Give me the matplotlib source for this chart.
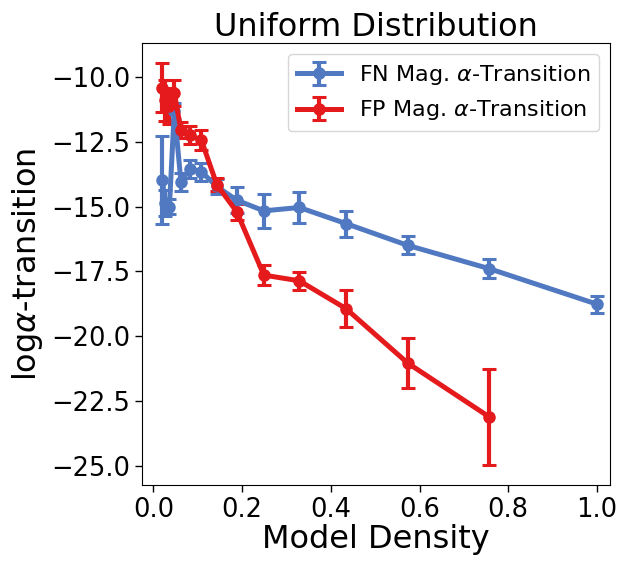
import matplotlib
matplotlib.use("Agg")
import matplotlib.pyplot as plt

density = [1.0, 0.757, 0.573, 0.434, 0.329, 0.249, 0.188, 0.143, 0.108, 0.082, 0.062, 0.047, 0.036, 0.027, 0.020]

fn_mean = [-18.76, -17.39, -16.49, -15.65, -15.03, -15.16, -14.75, -14.22, -13.65, -13.53, -14.04, -11.3, -15.0, -14.85, -13.98]
fn_err = [0.33, 0.36, 0.35, 0.5, 0.61, 0.66, 0.51, 0.3, 0.35, 0.35, 0.35, 0.3, 0.3, 0.5, 1.7]

fp_mean = [None, -23.11, -21.03, -18.93, -17.86, -17.64, -15.2, -14.15, -12.43, -12.24, -12.05, -10.6, -11.1, -10.9, -10.4]
fp_err = [None, 1.85, 0.97, 0.7, 0.35, 0.39, 0.3, 0.25, 0.4, 0.35, 0.3, 0.5, 0.7, 0.8, 0.95]

fn_label = r"FN Mag. $\alpha$-Transition"
fp_label = r"FP Mag. $\alpha$-Transition"
title = "Uniform Distribution"
xlabel = "Model Density"
ylabel = r"log$\alpha$-transition"

blue = "#5079C2"
red = "#E41A1C"

fig = plt.figure(figsize=(6.17, 5.61), dpi=100)
ax = fig.add_axes([0.230, 0.135, 0.759, 0.788])

ax.errorbar(density, fn_mean, yerr=fn_err, color=blue, lw=3.6, marker="o", ms=8,
            capsize=5, capthick=2.2, elinewidth=3, label=fn_label)
fp_x = [d for d, m in zip(density, fp_mean) if m is not None]
fp_y = [m for m in fp_mean if m is not None]
fp_e = [e for e in fp_err if e is not None]
ax.errorbar(fp_x, fp_y, yerr=fp_e, color=red, lw=3.6, marker="o", ms=8,
            capsize=5, capthick=2.2, elinewidth=3, label=fp_label)

ax.set_xlim(-0.026, 1.03)
ax.set_ylim(-25.75, -8.69)
ax.set_xticks([0.0, 0.2, 0.4, 0.6, 0.8, 1.0])
ax.set_yticks([-25.0, -22.5, -20.0, -17.5, -15.0, -12.5, -10.0])
ax.tick_params(labelsize=18.5, length=5, width=1)
ax.set_xlabel(xlabel, fontsize=23, labelpad=1)
ax.set_ylabel(ylabel, fontsize=23, labelpad=4)
ax.set_title(title, fontsize=23, pad=4)
ax.legend(loc="upper right", fontsize=16, handlelength=2)

fig.savefig("out.png", dpi=100)
